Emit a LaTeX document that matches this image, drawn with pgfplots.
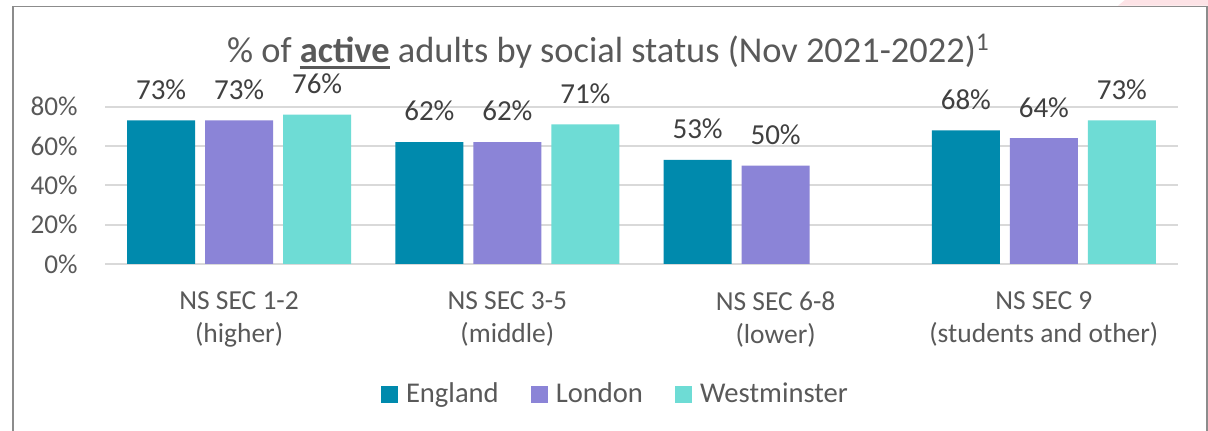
\documentclass[border=0pt]{standalone}
\usepackage{fontspec}
\setmainfont{Carlito}
\usepackage{pgfplots}
\pgfplotsset{compat=1.18}
\definecolor{eng}{HTML}{008AAD}
\definecolor{lon}{HTML}{8B84D7}
\definecolor{wes}{HTML}{6EDCD5}
\definecolor{txt}{HTML}{595959}
\definecolor{lbl}{HTML}{404040}
\definecolor{grd}{HTML}{D9D9D9}
\definecolor{frm}{HTML}{8C8C8C}
\definecolor{pnk}{HTML}{FDE3E6}
\newcommand\ul[1]{\setbox0\hbox{#1}\rlap{\rule[-3.05pt]{\wd0}{1.35pt}}\box0\relax}
\begin{document}
\begin{tikzpicture}
\path[fill=white,use as bounding box] (-52.5pt,-83.5pt) rectangle (551.5pt,132pt);
\fill[pnk] (510pt,132pt) -- (551.5pt,132pt) -- (551.5pt,129.15pt) -- (506.5pt,129.15pt) -- cycle;
\draw[frm,line width=0.85pt] (-46.15pt,-90pt) -- (-46.15pt,128.75pt) -- (550.85pt,128.75pt) -- (550.85pt,-90pt);
\begin{axis}[
 scale only axis, width=536.5pt, height=78.65pt,
 ybar=5pt, bar width=34pt,
 xmin=-0.5, xmax=3.5, ymin=0, ymax=80,
 clip=false,
 xtick={0,1,2,3},
 xticklabels={{NS SEC 1-2\\(higher)},{NS SEC 3-5\\(middle)},{NS SEC 6-8\\(lower)},{NS SEC 9\\(students and other)}},
 ytick={0,20,40,60,80},
 yticklabel={\pgfmathprintnumber{\tick}\%},
 /pgf/number format/assume math mode=true,
 axis line style={draw=none},
 major tick length=0pt,
 ymajorgrids, grid style={grd, line width=1pt},
 tick label style={text=txt},
 yticklabel style={font=\fontsize{13.6}{16}\selectfont, inner sep=0pt, xshift=-13.5pt},
 xticklabel style={font=\fontsize{13.75}{16.5}\selectfont, align=center, inner sep=0pt, anchor=north, yshift=-13.5pt},
 nodes near coords={\pgfmathprintnumber{\pgfplotspointmeta}\%},
 every node near coord/.append style={font=\fontsize{14.5}{17}\selectfont, text=lbl, inner sep=0pt, yshift=10.25pt},
 every axis plot/.append style={draw=none, legend image code/.code={\fill[##1] (0pt,-4.25pt) rectangle (8.5pt,4.25pt);}},
 legend columns=-1,
 legend style={draw=none, fill=none, at={(0.4748,-0.8265)}, anchor=center, font=\fontsize{14.3}{17}\selectfont, text=txt, inner sep=0pt, nodes={inner sep=0pt}, /tikz/every odd column/.append style={column sep=4pt}, /tikz/every even column/.append style={column sep=16pt}},
]
\addplot[fill=eng] coordinates {(0,73) (1,62) (2,53) (3,68)};
\addplot[fill=lon] coordinates {(0,73) (1,62) (2,50) (3,64)};
\addplot[fill=wes] coordinates {(0,76) (1,71) (3,73)};
\legend{England,London,Westminster}
\end{axis}
\node[anchor=base, text=txt, font=\fontsize{18.2}{21}\selectfont] at (251.75pt,100.5pt) {\% of \ul{\textbf{active}} adults by social status (Nov 2021-2022)\textsuperscript{1}};
\end{tikzpicture}
\end{document}
